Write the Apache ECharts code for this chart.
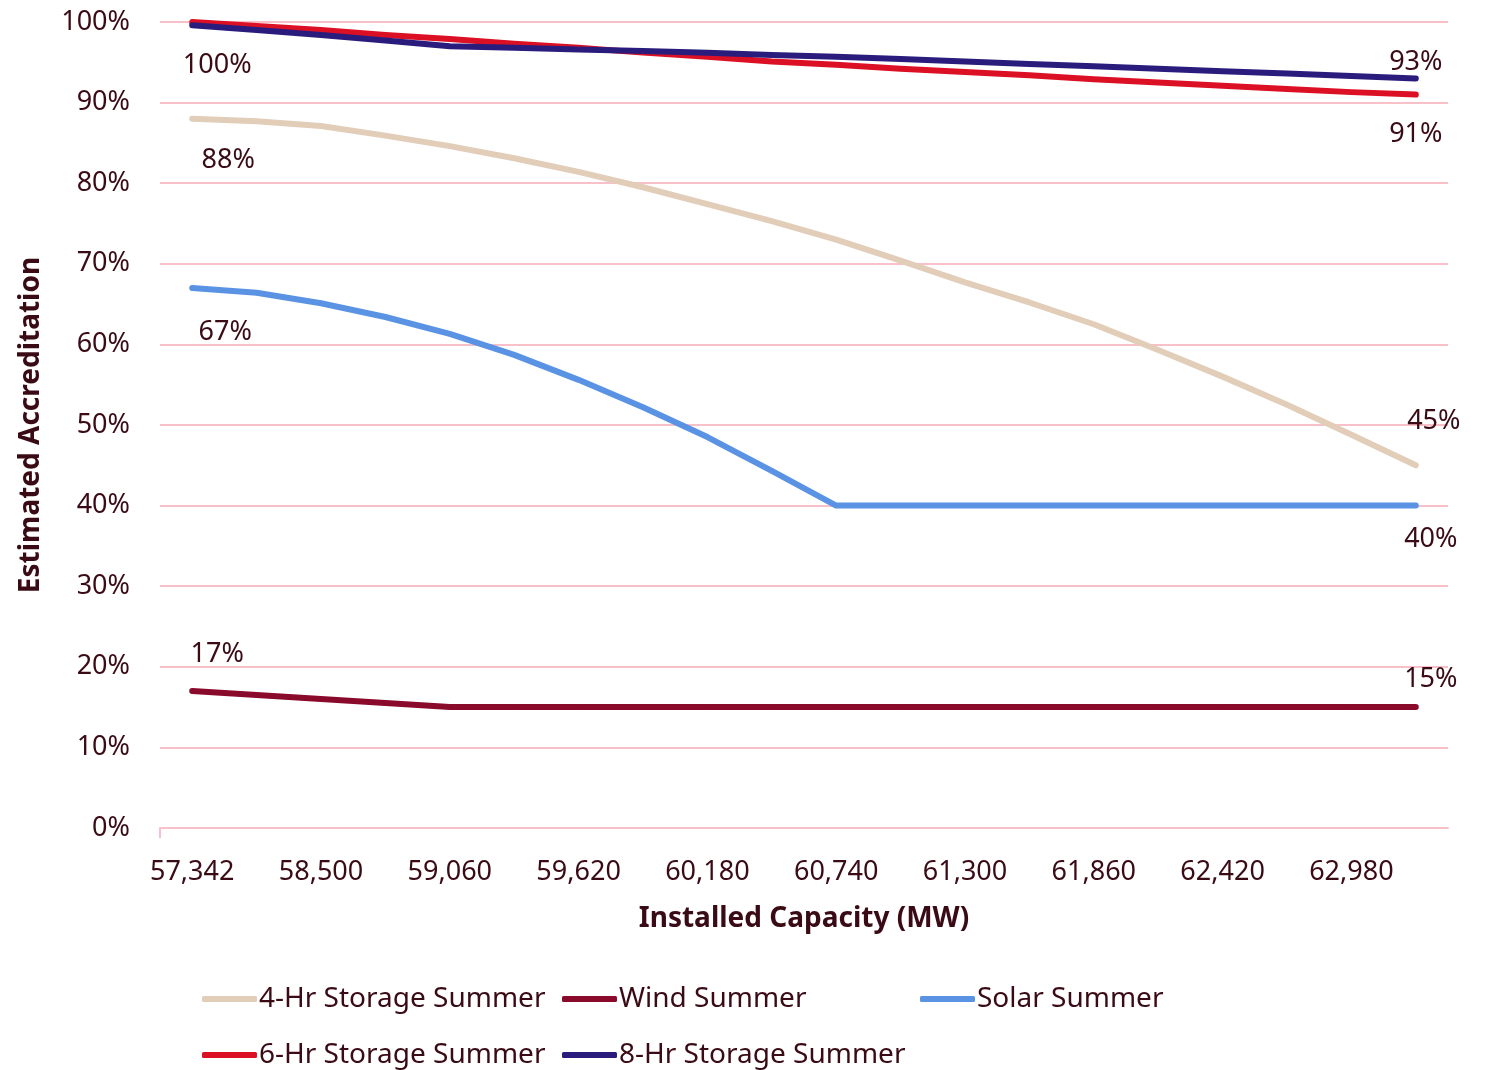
<!DOCTYPE html>
<html>
<head>
<meta charset="utf-8">
<script src="https://cdn.jsdelivr.net/npm/echarts@6/dist/echarts.min.js"></script>
<style>
  html, body { margin: 0; padding: 0; background: #ffffff; }
  #chart { width: 1491px; height: 1070px; }
</style>
</head>
<body>
<div id="chart"></div>
<script>
// Installed capacity steps (MW); every other step is labelled on the axis
const capacity = [
  '57,342', '57,920', '58,500', '58,780', '59,060', '59,340', '59,620', '59,900',
  '60,180', '60,460', '60,740', '61,020', '61,300', '61,580', '61,860', '62,140',
  '62,420', '62,700', '62,980', '63,260'
];

// Estimated accreditation (%) per resource class
const storage4hr = [88, 87.7, 87.1, 85.9, 84.6, 83.1, 81.4, 79.5, 77.4, 75.3,
                    73.0, 70.4, 67.7, 65.2, 62.5, 59.3, 56.0, 52.5, 48.8, 45];
const wind = [17, 16.5, 16, 15.5, 15, 15, 15, 15, 15, 15,
              15, 15, 15, 15, 15, 15, 15, 15, 15, 15];
const solar = [67, 66.4, 65.1, 63.4, 61.3, 58.7, 55.6, 52.2, 48.5, 44.3,
               40, 40, 40, 40, 40, 40, 40, 40, 40, 40];
const storage6hr = [100, 99.5, 99.0, 98.4, 97.9, 97.3, 96.8, 96.2, 95.7, 95.1,
                    94.7, 94.2, 93.8, 93.4, 92.9, 92.5, 92.1, 91.7, 91.3, 91];
const storage8hr = [99.6, 99.0, 98.4, 97.7, 97.0, 96.8, 96.6, 96.4, 96.2, 95.9,
                    95.7, 95.4, 95.1, 94.8, 94.5, 94.2, 93.9, 93.6, 93.3, 93];

const yTicks = { min: 0, max: 100, interval: 10 };

const TEXT = '#3a0b14';
const GRID = '#f8c0c8';
const FONT = 'Noto Sans';

// label offsets for the first and last point of each series
function withEndLabels(values, startOffset, endOffset) {
  return values.map((v, i) => {
    const last = i === values.length - 1;
    if ((i === 0 && startOffset) || (last && endOffset)) {
      return {
        value: v,
        label: {
          show: true,
          position: 'inside',
          offset: i === 0 ? startOffset : endOffset,
          formatter: p => Math.round(p.value) + '%'
        }
      };
    }
    return v;
  });
}

function lineSeries(name, color, data) {
  return {
    name: name,
    type: 'line',
    data: data,
    symbol: 'circle',
    symbolSize: 1,
    showSymbol: true,
    itemStyle: { color: color },
    lineStyle: { color: color, width: 6, cap: 'round', join: 'round' },
    label: { color: TEXT, fontFamily: FONT, fontSize: 27 },
    emphasis: { disabled: true },
    animation: false
  };
}

const legendBase = {
  icon: 'roundRect',
  itemWidth: 55,
  itemHeight: 6,
  itemGap: 0,
  textStyle: { color: TEXT, fontFamily: FONT, fontSize: 28, padding: [0, 0, 0, -3] },
  selectedMode: false
};

const chart = echarts.init(document.getElementById('chart'), null, { renderer: 'canvas' });

chart.setOption({
  backgroundColor: '#ffffff',
  animation: false,
  grid: { left: 160, right: 43, top: 22, bottom: 242, containLabel: false },
  legend: [
    Object.assign({}, legendBase, { data: ['4-Hr Storage Summer'], left: 197, top: 980 }),
    Object.assign({}, legendBase, { data: ['Wind Summer'], left: 557, top: 980 }),
    Object.assign({}, legendBase, { data: ['Solar Summer'], left: 915, top: 980 }),
    Object.assign({}, legendBase, { data: ['6-Hr Storage Summer'], left: 197, top: 1036 }),
    Object.assign({}, legendBase, { data: ['8-Hr Storage Summer'], left: 557, top: 1036 })
  ],
  xAxis: [
    {
      type: 'category',
      data: capacity,
      boundaryGap: true,
      name: 'Installed Capacity (MW)',
      nameLocation: 'middle',
      nameGap: 77,
      nameTextStyle: { color: TEXT, fontFamily: FONT, fontSize: 28, fontWeight: 'bold' },
      axisLine: { show: true, lineStyle: { color: GRID, width: 2 } },
      axisTick: { show: false },
      axisLabel: { interval: 1, margin: 31, color: TEXT, fontFamily: FONT, fontSize: 27 },
      splitLine: { show: false }
    },
    {
      // single tick marking the start of the capacity axis
      type: 'value',
      min: 0,
      max: 1,
      position: 'bottom',
      axisLine: { show: false },
      axisLabel: { show: false },
      splitLine: { show: false },
      axisTick: { show: true, length: 10, customValues: [0], lineStyle: { color: GRID, width: 2 } }
    }
  ],
  yAxis: {
    type: 'value',
    min: yTicks.min,
    max: yTicks.max,
    interval: yTicks.interval,
    name: 'Estimated Accreditation',
    nameLocation: 'middle',
    nameGap: 115,
    nameTextStyle: { color: TEXT, fontFamily: FONT, fontSize: 28, fontWeight: 'bold' },
    axisLine: { show: false },
    axisTick: { show: false },
    axisLabel: { formatter: '{value}%', margin: 30, color: TEXT, fontFamily: FONT, fontSize: 27 },
    splitLine: { show: true, lineStyle: { color: GRID, width: 2 } }
  },
  series: [
    lineSeries('4-Hr Storage Summer', '#e2cdb8', withEndLabels(storage4hr, [36, 42], [18, -44])),
    lineSeries('Wind Summer', '#8a0a2c', withEndLabels(wind, [25, -37], [15, -28])),
    lineSeries('Solar Summer', '#5b93e4', withEndLabels(solar, [33, 44], [15, 34])),
    lineSeries('6-Hr Storage Summer', '#dc1024', withEndLabels(storage6hr, [25, 43], [0, 40])),
    lineSeries('8-Hr Storage Summer', '#2a1c7c', withEndLabels(storage8hr, null, [0, -16]))
  ]
});
</script>
</body>
</html>
